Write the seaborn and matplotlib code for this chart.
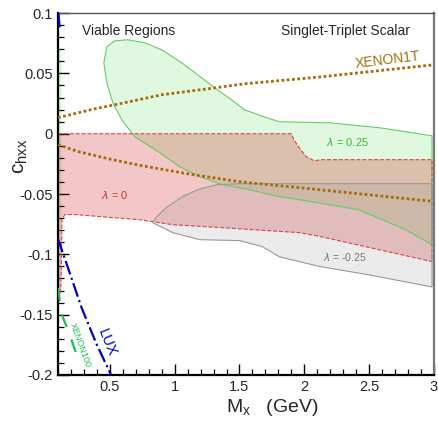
import matplotlib
matplotlib.use("Agg")
import matplotlib.pyplot as plt
import seaborn as sns
from matplotlib.ticker import MultipleLocator, FormatStrFormatter

# ---- data ----
# lambda = 0.25 region (green): upper edge then lower edge (left to right)
green_up_x = [0.454, 0.477, 0.538, 0.638, 0.769, 0.9, 1.054, 1.208, 1.308, 1.438, 1.538, 1.69, 1.808, 2.192, 2.577, 2.985]
green_up_y = [0.0588, 0.0721, 0.0770, 0.0779, 0.0754, 0.0696, 0.0588, 0.0464, 0.0381, 0.0282, 0.0199, 0.014, 0.0099, 0.0091, 0.005, -0.0017]
green_lo_x = [0.454, 0.477, 0.523, 0.592, 0.692, 0.731, 0.885, 1.038, 1.192, 1.369, 1.577, 1.808, 1.962, 2.42, 2.78, 2.985]
green_lo_y = [0.0588, 0.0423, 0.0257, 0.0116, -0.0025, -0.005, -0.0157, -0.0273, -0.0356, -0.0423, -0.0464, -0.0522, -0.0547, -0.063, -0.0795, -0.092]
# thin green strip along the left edge
green_strip_x = [0.1, 0.115, 0.123, 0.123, 0.115, 0.1]
green_strip_y = [0.0705, 0.070, 0.064, -0.130, -0.137, -0.137]

# lambda = 0 region (red)
red_up_x = [0.1, 1.9, 1.92, 1.96, 2.015, 2.077, 2.138, 2.985]
red_up_y = [0.0, 0.0, -0.005, -0.0116, -0.019, -0.0224, -0.0215, -0.0215]
red_lo_x = [0.1, 0.118, 0.125, 0.131, 0.154, 0.23, 0.731, 0.985, 1.369, 1.962, 2.115, 2.985]
red_lo_y = [-0.1375, -0.133, -0.120, -0.071, -0.067, -0.067, -0.0713, -0.0754, -0.0779, -0.082, -0.085, -0.106]

# lambda = -0.25 region (grey)
grey_up_x = [0.831, 0.86, 0.938, 1.062, 1.192, 1.323, 1.5, 2.985]
grey_up_y = [-0.0737, -0.069, -0.061, -0.052, -0.0458, -0.0423, -0.0414, -0.0414]
grey_lo_x = [0.831, 0.985, 1.192, 1.5, 1.677, 1.808, 2.115, 2.5, 2.985]
grey_lo_y = [-0.0737, -0.082, -0.0878, -0.0886, -0.0936, -0.102, -0.110, -0.117, -0.127]

# XENON1T bounds (two branches)
x1t_up_x = [0.1, 0.385, 0.538, 0.9, 1.308, 1.538, 2.115, 2.985]
x1t_up_y = [0.0133, 0.0207, 0.024, 0.0323, 0.038, 0.0414, 0.047, 0.057]
x1t_lo_x = [0.1, 0.246, 0.5, 0.731, 1.115, 1.5, 1.962, 2.985]
x1t_lo_y = [-0.009, -0.0145, -0.021, -0.0262, -0.0335, -0.0398, -0.0447, -0.056]

# LUX and XENON100 bounds
lux_x = [0.1, 0.18, 0.285, 0.4, 0.51]
lux_y = [-0.087, -0.112, -0.145, -0.175, -0.2]
lux_top_x = [0.104, 0.113]
lux_top_y = [0.1, 0.088]
x100_x = [0.1, 0.13, 0.185, 0.254]
x100_y = [-0.128, -0.15, -0.165, -0.186]

sns.set_style("ticks")
plt.rcParams['font.family'] = ['Liberation Sans', 'DejaVu Sans']

fig, ax = plt.subplots(figsize=(4.39, 4.23), dpi=100)
fig.subplots_adjust(left=0.132, right=0.9886, top=0.969, bottom=0.1135)


def region(xu, yu, xl, yl, fc, ec, alpha, ls):
    xs = list(xu) + list(xl[::-1])
    ys = list(yu) + list(yl[::-1])
    ax.fill(xs, ys, facecolor=fc, alpha=alpha, edgecolor='none', zorder=1)
    ax.fill(xs, ys, facecolor='none', edgecolor=ec, linewidth=0.8, linestyle=ls, zorder=2)


region(green_up_x, green_up_y, green_lo_x, green_lo_y, '#33cc33', '#66cc66', 0.15, '-')
ax.fill(green_strip_x, green_strip_y, facecolor='#33cc33', alpha=0.15, edgecolor='#66cc66', lw=0.8, zorder=1)
region(red_up_x, red_up_y, red_lo_x, red_lo_y, '#cc0000', '#dd4444', 0.22, '--')
region(grey_up_x, grey_up_y, grey_lo_x, grey_lo_y, '#888888', '#999999', 0.16, '-')

brown = '#a46c0c'
for xs, ys in [(x1t_up_x, x1t_up_y), (x1t_lo_x, x1t_lo_y)]:
    sns.lineplot(x=xs, y=ys, ax=ax, color=brown, linewidth=2.0, sort=False, zorder=3)
    ax.lines[-1].set_dashes([1.0, 0.9])
sns.lineplot(x=lux_x, y=lux_y, ax=ax, color='#0000cc', linestyle='-.', linewidth=1.6, sort=False, zorder=3)
sns.lineplot(x=lux_top_x, y=lux_top_y, ax=ax, color='#0000cc', linestyle='-.', linewidth=1.6, sort=False, zorder=3)
sns.lineplot(x=x100_x, y=x100_y, ax=ax, color='#22bb55', linewidth=1.6, sort=False, zorder=3)
ax.lines[-1].set_dashes([6, 6])

ax.set_xlim(0.1, 3)
ax.set_ylim(-0.2, 0.1)

ax.xaxis.set_major_locator(MultipleLocator(0.5))
ax.xaxis.set_minor_locator(MultipleLocator(0.1))
ax.yaxis.set_major_locator(MultipleLocator(0.05))
ax.yaxis.set_minor_locator(MultipleLocator(0.01))
ax.xaxis.set_major_formatter(FormatStrFormatter('%g'))
ax.yaxis.set_major_formatter(FormatStrFormatter('%g'))
ax.tick_params(which='both', direction='in', top=False, right=False, labelsize=10.5, color='black')
ax.tick_params(which='major', length=8, width=1.0)
ax.tick_params(which='minor', length=4, width=0.9)

for side in ['left', 'bottom']:
    ax.spines[side].set_linewidth(1.6)
    ax.spines[side].set_color('black')
ax.spines['top'].set_color('#555555')
ax.spines['top'].set_linewidth(1.0)
ax.spines['right'].set_color('#777777')
ax.spines['right'].set_linewidth(1.6)

ax.set_xlabel(r'$\mathregular{M_x}$   (GeV)', fontsize=14)
ax.xaxis.set_label_coords(0.57, -0.06)
ax.set_ylabel(r'$\mathregular{c_{hxx}}$', fontsize=15)
ax.yaxis.set_label_coords(-0.075, 0.605)

ax.text(0.064, 0.97, 'Viable Regions', transform=ax.transAxes, fontsize=10, va='top', ha='left')
ax.text(0.936, 0.97, 'Singlet-Triplet Scalar', transform=ax.transAxes, fontsize=10, va='top', ha='right')
ax.text(2.64, 0.0613, 'XENON1T', color='#a07010', fontsize=10, rotation=7, ha='center', va='center')
ax.text(0.477, -0.173, 'LUX', color='#0000cc', fontsize=10.5, rotation=-68, ha='center', va='center')
ax.text(0.275, -0.175, 'XENON100', color='#22bb55', fontsize=6.5, rotation=-70, ha='center', va='center')
ax.text(0.538, -0.0505, r'$\lambda$ = 0', color='#cc3333', fontsize=8, ha='center', va='center')
ax.text(2.33, -0.0066, r'$\lambda$ = 0.25', color='#33bb33', fontsize=8, ha='center', va='center')
ax.text(2.31, -0.102, r'$\lambda$ = -0.25', color='#777777', fontsize=7.5, ha='center', va='center')

fig.savefig('out.png', dpi=100)
